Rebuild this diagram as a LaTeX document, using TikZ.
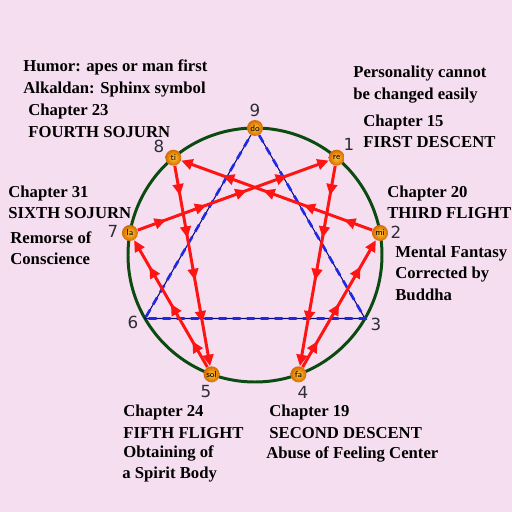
\documentclass[tikz,border=0pt]{standalone}
\usepackage{fontspec}
\setmainfont{Liberation Serif}
\newfontfamily\numfont{DejaVu Sans}
\usetikzlibrary{arrows.meta,decorations.markings}
\definecolor{bgpink}{RGB}{246,222,241}
\definecolor{ringgreen}{RGB}{12,75,15}
\definecolor{flowred}{RGB}{255,20,20}
\definecolor{triblue}{RGB}{30,40,230}
\definecolor{trinavy}{RGB}{10,10,110}
\definecolor{numgray}{RGB}{45,45,55}
\definecolor{noteinner}{RGB}{255,200,50}
\definecolor{noteouter}{RGB}{215,105,0}
\tikzset{
  ball/.style={circle, inner color=noteinner, outer color=noteouter, minimum size=0.32cm, inner sep=0pt,
    font=\sffamily\fontsize{5}{5}\selectfont},
  num/.style={font=\numfont\fontsize{9.5}{9.5}\selectfont, text=numgray, inner sep=0pt},
  lbl/.style={anchor=base west, inner sep=0pt, font=\bfseries\fontsize{9.5}{11}\selectfont},
  flow/.style={flowred, line width=1.7pt, -{Triangle[length=6.5pt,width=6pt]},
    postaction={decorate},
    decoration={markings, mark=between positions 0.6cm and -0.6cm step 0.86cm
      with {\arrow{Triangle[length=6.5pt,width=6pt]}}}},
}
\begin{document}
\begin{tikzpicture}
\path[use as bounding box, fill=bgpink] (-5.10,-5.14) rectangle (5.14,5.10);
\draw[ringgreen, line width=1.7pt] (0,0) circle (2.54);
% the seven notes on the circle
\node[ball] (do) at (90:2.54) {do};
\node[ball] (re) at (50:2.54) {re};
\node[ball] (mi) at (10:2.54) {mi};
\node[ball] (fa) at (-70:2.54) {fa};
\node[ball] (sol) at (-110:2.54) {sol};
\node[ball] (la) at (170:2.54) {la};
\node[ball] (ti) at (130:2.54) {ti};
\coordinate (p3) at (-30:2.54);
\coordinate (p6) at (210:2.54);
% triangle 9-3-6
\draw[trinavy, line width=0.6pt] (do) -- (p3) -- (p6) -- (do);
\draw[triblue, line width=1.5pt, dash pattern=on 0.16cm off 0.12cm] (do) -- (p3) -- (p6) -- (do);
% inner flow 1-4-2-8-5-7-1
\draw[flow] (re) -- (fa);
\draw[flow] (fa) -- (mi);
\draw[flow] (mi) -- (ti);
\draw[flow] (ti) -- (sol);
\draw[flow] (sol) -- (la);
\draw[flow] (la) -- (re);
% numbers
\node[num] (n9) at (0,2.9) {9};
\node[num] (n1) at (1.88,2.22) {1};
\node[num] (n2) at (2.82,0.46) {2};
\node[num] (n3) at (2.42,-1.38) {3};
\node[num] (n4) at (0.96,-2.74) {4};
\node[num] (n5) at (-0.98,-2.74) {5};
\node[num] (n6) at (-2.44,-1.34) {6};
\node[num] (n7) at (-2.84,0.48) {7};
\node[num] (n8) at (-1.92,2.18) {8};
% texts
\node[lbl] (humor) at (-4.64,3.68) {Humor: apes or man first};
\node[lbl] (alkaldan) at (-4.64,3.24) {Alkaldan: Sphinx symbol};
\node[lbl] (ch23) at (-4.54,2.80) {Chapter 23};
\node[lbl] (sojourn4) at (-4.54,2.36) {FOURTH SOJURN};
\node[lbl] (ch31) at (-4.94,1.16) {Chapter 31};
\node[lbl] (sojourn6) at (-4.94,0.74) {SIXTH SOJURN};
\node[lbl] (remorse) at (-4.90,0.24) {Remorse of};
\node[lbl] (conscience) at (-4.90,-0.18) {Conscience};
\node[lbl] (personality) at (1.96,3.56) {Personality cannot};
\node[lbl] (changed) at (1.96,3.12) {be changed easily};
\node[lbl] (ch15) at (2.16,2.58) {Chapter 15};
\node[lbl] (descent1) at (2.16,2.16) {FIRST DESCENT};
\node[lbl] (ch20) at (2.64,1.16) {Chapter 20};
\node[lbl] (flight3) at (2.64,0.74) {THIRD FLIGHT};
\node[lbl] (fantasy) at (2.80,-0.04) {Mental Fantasy};
\node[lbl] (corrected) at (2.80,-0.46) {Corrected by};
\node[lbl] (buddha) at (2.80,-0.90) {Buddha};
\node[lbl] (ch24) at (-2.64,-3.22) {Chapter 24};
\node[lbl] (flight5) at (-2.64,-3.66) {FIFTH FLIGHT};
\node[lbl] (obtaining) at (-2.64,-4.04) {Obtaining of};
\node[lbl] (spirit) at (-2.66,-4.46) {a Spirit Body};
\node[lbl] (ch19) at (0.28,-3.22) {Chapter 19};
\node[lbl] (descent2) at (0.28,-3.66) {SECOND DESCENT};
\node[lbl] (abuse) at (0.22,-4.06) {Abuse of Feeling Center};
\end{tikzpicture}
\end{document}
